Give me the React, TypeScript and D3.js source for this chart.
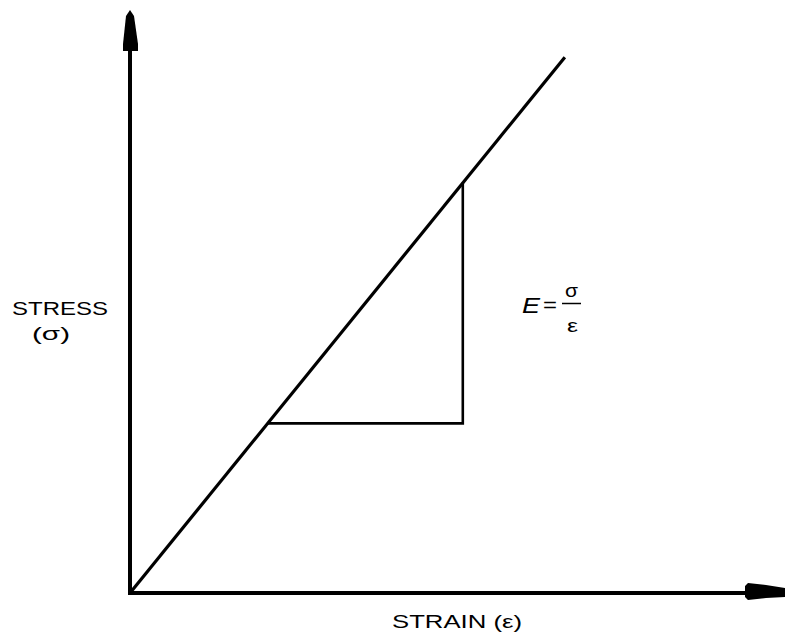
import React from "react";
import * as d3 from "d3";

const W = 785;
const H = 640;

// data units (arbitrary)
const lineStart: [number, number] = [0, 0];
const lineEnd: [number, number] = [66.9, 91.9];
const triX: number[] = [21.2, 51.2];
const triY: number[] = [29.1, 70.4];
const axisLabels: string[] = ["STRESS", "(σ)", "STRAIN (ε)"];

export default function App() {
  const x = d3.scaleLinear().domain([0, 100]).range([130, 780]);
  const y = d3.scaleLinear().domain([0, 100]).range([593, 10]);
  const line = d3.line<[number, number]>().x((d) => x(d[0])).y((d) => y(d[1]));
  const tri: [number, number][] = [
    [triX[0], triY[0]],
    [triX[1], triY[0]],
    [triX[1], triY[1]],
  ];
  const x0 = x(0);
  const y0 = y(0);
  const yArrow = `M${x0},10 L${x0 - 4},16 L${x0 - 7},44 L${x0 - 7},51 L${x0 + 8},51 L${x0 + 8},44 L${x0 + 4},16 Z`;
  const xArrow = `M745,586 L748,583 L766,585 L785,588 L785,597 L766,598 L748,600 L745,597 Z`;
  const font = "'Liberation Sans', Arial, Helvetica, sans-serif";
  return (
    <svg width={W} height={H} style={{ position: "absolute", left: 0, top: 0, background: "#fff" }}>
      <rect width={W} height={H} fill="#fff" />
      {/* axes */}
      <line x1={x0} y1={y0 + 2} x2={x0} y2={48} stroke="#000" strokeWidth={4} />
      <line x1={x0 - 2} y1={y0} x2={748} y2={y0} stroke="#000" strokeWidth={4} />
      <path d={yArrow} fill="#000" />
      <path d={xArrow} fill="#000" />
      {/* main line */}
      <path d={line([lineStart, lineEnd]) || ""} stroke="#000" strokeWidth={3.2} fill="none" />
      {/* triangle */}
      <path d={line(tri) || ""} stroke="#000" strokeWidth={2.6} fill="none" />
      {/* labels */}
      <text x={12} y={315} fontFamily={font} fontSize={18.5} textLength={96} lengthAdjust="spacingAndGlyphs" fill="#000">
        {axisLabels[0]}
      </text>
      <text x={32} y={340} fontFamily={font} fontSize={19} textLength={38} lengthAdjust="spacingAndGlyphs" fill="#000">
        {axisLabels[1]}
      </text>
      <text x={392} y={628} fontFamily={font} fontSize={18.5} textLength={130} lengthAdjust="spacingAndGlyphs" fill="#000">
        {axisLabels[2]}
      </text>
      {/* formula */}
      <text x={522} y={313} fontFamily={font} fontSize={22} fontStyle="italic" textLength={18} lengthAdjust="spacingAndGlyphs" fill="#000">
        E
      </text>
      <text x={543} y={312} fontFamily={font} fontSize={20} textLength={14} lengthAdjust="spacingAndGlyphs" fill="#000">
        =
      </text>
      <text x={565} y={297} fontFamily={font} fontSize={19} textLength={13} lengthAdjust="spacingAndGlyphs" fill="#000">
        σ
      </text>
      <line x1={562} y1={303.5} x2={581} y2={303.5} stroke="#000" strokeWidth={1.5} />
      <text x={567} y={332} fontFamily={font} fontSize={19} textLength={11} lengthAdjust="spacingAndGlyphs" fill="#000">
        ε
      </text>
    </svg>
  );
}
